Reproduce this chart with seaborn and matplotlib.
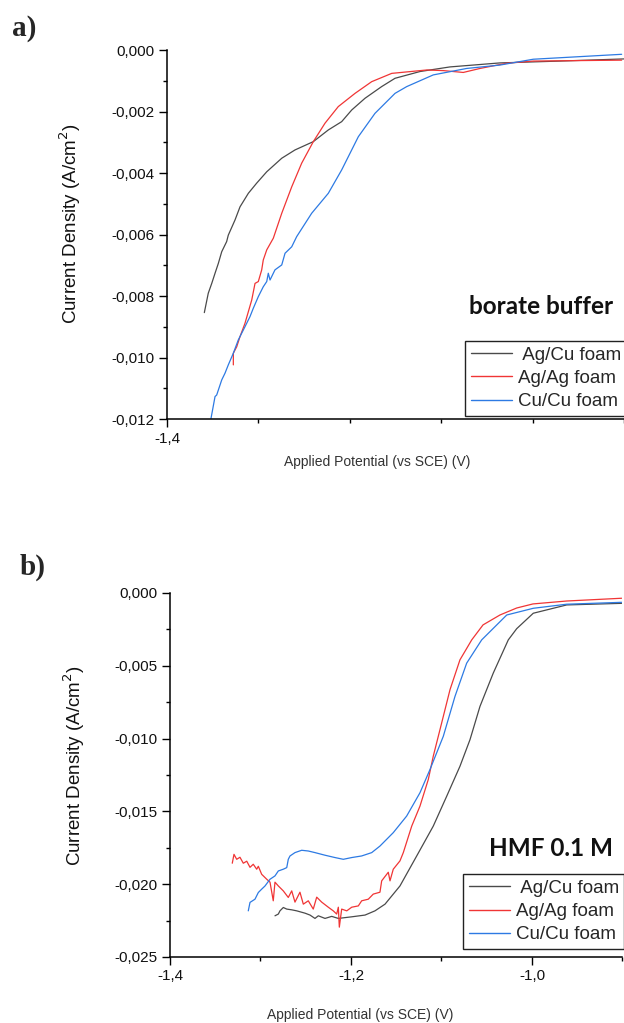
import matplotlib
matplotlib.use("Agg")
import matplotlib.pyplot as plt
import seaborn as sns
from matplotlib.ticker import FixedLocator

# ---------------- data: panel a (borate buffer) ----------------
a_agcu_v = [-1.3592, -1.3549, -1.3511, -1.3475, -1.3439, -1.3402, -1.3348, -1.3330, -1.3257,
            -1.3202, -1.3111, -1.3020, -1.2910, -1.2746, -1.2601, -1.2401, -1.2237, -1.2091,
            -1.1981, -1.1836, -1.1654, -1.1508, -1.1235, -1.0907, -1.0361, -0.9705, -0.9005]
a_agcu_j = [-0.00854, -0.00791, -0.00759, -0.00726, -0.00694, -0.00656, -0.00623, -0.00602, -0.00553,
            -0.00510, -0.00466, -0.00433, -0.00396, -0.00352, -0.00325, -0.00298, -0.00260, -0.00233,
            -0.00195, -0.00157, -0.00119, -0.00092, -0.00070, -0.00055, -0.00042, -0.00036, -0.00029]

a_agag_v = [-1.3275, -1.3275, -1.3238, -1.3202, -1.3148, -1.3111, -1.3074, -1.3038, -1.3002,
            -1.2965, -1.2948, -1.2910, -1.2838, -1.2746, -1.2637, -1.2528, -1.2401, -1.2273,
            -1.2128, -1.1945, -1.1763, -1.1544, -1.1162, -1.0980, -1.0762, -1.0579, -1.0287,
            -0.9997, -0.9031]
a_agag_j = [-0.01024, -0.00986, -0.00965, -0.00932, -0.00889, -0.00851, -0.00813, -0.00759, -0.00753,
            -0.00715, -0.00683, -0.00650, -0.00612, -0.00531, -0.00445, -0.00368, -0.00298, -0.00238,
            -0.00184, -0.00141, -0.00103, -0.00076, -0.00065, -0.00067, -0.00073, -0.00060, -0.00043,
            -0.00036, -0.00033]

a_cucu_v = [-1.3519, -1.3475, -1.3457, -1.3402, -1.3366, -1.3330, -1.3275, -1.3221, -1.3148,
            -1.3093, -1.3057, -1.3002, -1.2948, -1.2910, -1.2893, -1.2874, -1.2820, -1.2746,
            -1.2710, -1.2637, -1.2583, -1.2419, -1.2237, -1.2091, -1.1909, -1.1727, -1.1508,
            -1.1380, -1.1090, -1.0725, -1.0361, -0.9997, -0.9031]
a_cucu_j = [-0.01198, -0.01127, -0.01122, -0.01073, -0.01051, -0.01024, -0.00986, -0.00943, -0.00900,
            -0.00867, -0.00840, -0.00802, -0.00770, -0.00753, -0.00726, -0.00748, -0.00715, -0.00699,
            -0.00661, -0.00640, -0.00607, -0.00531, -0.00466, -0.00390, -0.00282, -0.00206, -0.00141,
            -0.00119, -0.00081, -0.00060, -0.00049, -0.00030, -0.00014]

# ---------------- data: panel b (HMF 0.1 M) ----------------
b_agcu_v = [-1.2840, -1.2803, -1.2785, -1.2748, -1.2710, -1.2655, -1.2600, -1.2508, -1.2453,
            -1.2398, -1.2361, -1.2287, -1.2213, -1.2140, -1.1992, -1.1845, -1.1735, -1.1624,
            -1.1459, -1.1274, -1.1091, -1.0942, -1.0796, -1.0685, -1.0575, -1.0428, -1.0262,
            -1.0169, -0.9986, -0.9617, -0.9009]
b_agcu_j = [-0.02217, -0.02205, -0.02183, -0.02160, -0.02171, -0.02176, -0.02183, -0.02199, -0.02212,
            -0.02235, -0.02217, -0.02235, -0.02221, -0.02235, -0.02224, -0.02212, -0.02183, -0.02137,
            -0.02012, -0.01806, -0.01601, -0.01395, -0.01190, -0.01007, -0.00779, -0.00550, -0.00322,
            -0.00245, -0.00139, -0.00082, -0.00071]

b_agag_v = [-1.3312, -1.3293, -1.3263, -1.3227, -1.3190, -1.3152, -1.3116, -1.3080, -1.3042,
            -1.3024, -1.2987, -1.2931, -1.2895, -1.2859, -1.2840, -1.2803, -1.2748, -1.2693,
            -1.2655, -1.2619, -1.2564, -1.2527, -1.2472, -1.2417, -1.2379, -1.2324, -1.2251,
            -1.2196, -1.2158, -1.2140, -1.2129, -1.2103, -1.2047, -1.1992, -1.1919, -1.1882,
            -1.1809, -1.1754, -1.1680, -1.1661, -1.1588, -1.1569, -1.1533, -1.1459, -1.1422,
            -1.1329, -1.1238, -1.1146, -1.1091, -1.0998, -1.0906, -1.0796, -1.0666, -1.0541,
            -1.0354, -1.0169, -0.9989, -0.9617, -0.9009]
b_agag_j = [-0.01856, -0.01795, -0.01829, -0.01815, -0.01856, -0.01842, -0.01884, -0.01863, -0.01897,
            -0.01877, -0.01932, -0.01966, -0.01986, -0.02114, -0.01986, -0.02012, -0.02046, -0.02091,
            -0.02046, -0.02123, -0.02055, -0.02137, -0.02114, -0.02171, -0.02089, -0.02123, -0.02158,
            -0.02183, -0.02205, -0.02158, -0.02295, -0.02171, -0.02183, -0.02158, -0.02149, -0.02114,
            -0.02103, -0.02068, -0.02055, -0.01977, -0.01918, -0.01977, -0.01897, -0.01840, -0.01783,
            -0.01601, -0.01464, -0.01281, -0.01121, -0.00892, -0.00664, -0.00459, -0.00322, -0.00219,
            -0.00151, -0.00103, -0.00075, -0.00055, -0.00036]

b_cucu_v = [-1.3135, -1.3116, -1.3061, -1.3024, -1.2987, -1.2950, -1.2895, -1.2840, -1.2803,
            -1.2748, -1.2710, -1.2693, -1.2674, -1.2619, -1.2545, -1.2472, -1.2398, -1.2287,
            -1.2177, -1.2085, -1.1992, -1.1882, -1.1771, -1.1680, -1.1533, -1.1385, -1.1238,
            -1.1127, -1.0980, -1.0851, -1.0722, -1.0556, -1.0279, -0.9986, -0.9617, -0.9009]
b_cucu_j = [-0.02183, -0.02125, -0.02103, -0.02057, -0.02034, -0.02012, -0.01966, -0.01943, -0.01909,
            -0.01897, -0.01886, -0.01829, -0.01806, -0.01783, -0.01767, -0.01772, -0.01783, -0.01801,
            -0.01817, -0.01829, -0.01817, -0.01806, -0.01783, -0.01738, -0.01646, -0.01532, -0.01372,
            -0.01212, -0.00984, -0.00710, -0.00482, -0.00322, -0.00151, -0.00105, -0.00077, -0.00064]

series_labels = [" Ag/Cu foam", "Ag/Ag foam", "Cu/Cu foam"]
series_colors = ["#4a4a4a", "#f03535", "#2d7ae3"]

a_yticks = [0.000, -0.002, -0.004, -0.006, -0.008, -0.010, -0.012]
a_yticklabels = ["0,000", "-0,002", "-0,004", "-0,006", "-0,008", "-0,010", "-0,012"]
a_xticks = [-1.4]
a_xticklabels = ["-1,4"]

b_yticks = [0.000, -0.005, -0.010, -0.015, -0.020, -0.025]
b_yticklabels = ["0,000", "-0,005", "-0,010", "-0,015", "-0,020", "-0,025"]
b_xticks = [-1.4, -1.2, -1.0]
b_xticklabels = ["-1,4", "-1,2", "-1,0"]

# ---------------- figure ----------------
sns.set_style("ticks")
plt.rcParams["font.family"] = ["Liberation Sans", "DejaVu Sans"]

W, H = 624, 1023
fig = plt.figure(figsize=(W / 100, H / 100), dpi=100)
ax_a = fig.add_axes([167 / W, 1 - 419 / H, 457.5 / W, 369 / H])
ax_b = fig.add_axes([170 / W, 1 - 957 / H, 452.5 / W, 364 / H])

panels = [
    (ax_a, [(a_agcu_v, a_agcu_j), (a_agag_v, a_agag_j), (a_cucu_v, a_cucu_j)],
     (-0.012, 0.0), a_yticks, a_yticklabels, [-0.001 - 0.002 * k for k in range(6)],
     a_xticks, a_xticklabels, [-1.3, -1.2, -1.1, -1.0, -0.9]),
    (ax_b, [(b_agcu_v, b_agcu_j), (b_agag_v, b_agag_j), (b_cucu_v, b_cucu_j)],
     (-0.025, 0.0), b_yticks, b_yticklabels, [-0.0025 - 0.005 * k for k in range(5)],
     b_xticks, b_xticklabels, [-1.3, -1.1, -0.9]),
]

for ax, curves, ylim, yt, ytl, yminor, xt, xtl, xminor in panels:
    for (v, j), lab, col in zip(curves, series_labels, series_colors):
        sns.lineplot(x=v, y=j, ax=ax, color=col, lw=0.9, sort=False,
                     estimator=None, label=lab)
    ax.set_xlim(-1.4, -0.9)
    ax.set_ylim(*ylim)
    ax.yaxis.set_major_locator(FixedLocator(yt))
    ax.set_yticklabels(ytl)
    ax.yaxis.set_minor_locator(FixedLocator(yminor))
    ax.xaxis.set_major_locator(FixedLocator(xt))
    ax.set_xticklabels(xtl)
    ax.xaxis.set_minor_locator(FixedLocator(xminor))
    ax.tick_params(which="major", direction="out", length=6, width=1.0,
                   labelsize=11, pad=3, color="black", labelcolor="#111111")
    ax.tick_params(which="minor", direction="out", length=3, width=1.0, color="black")
    for side in ("top", "right"):
        ax.spines[side].set_visible(False)
    for side in ("left", "bottom"):
        ax.spines[side].set_linewidth(1.1)
        ax.spines[side].set_color("black")
    ax.set_ylabel("Current Density (A/cm$^2$)", fontsize=13.5, color="#111111")
    ax.set_xlabel("Applied Potential (vs SCE) (V)", fontsize=10, color="#333333")

ax_a.yaxis.set_label_coords(-0.184, 0.53)
ax_a.xaxis.set_label_coords(0.46, -0.098)
ax_b.yaxis.set_label_coords(-0.184, 0.525)
ax_b.xaxis.set_label_coords(0.42, -0.140)

# legends
for ax, left, top in ((ax_a, 465, 341), (ax_b, 463, 874)):
    leg = ax.legend(loc="upper left", bbox_to_anchor=(left / W, 1 - top / H),
                    bbox_transform=fig.transFigure, frameon=True, fancybox=False,
                    edgecolor="#222222", framealpha=1, borderaxespad=0,
                    fontsize=13.5, handlelength=2.2, handletextpad=0.3,
                    labelspacing=0.33, borderpad=0.3)
    leg.get_frame().set_linewidth(1.0)
    for line in leg.get_lines():
        line.set_linewidth(1.0)

# condition captions
fig.text(541.5 / W, 1 - 307 / H, "borate buffer", ha="center", va="center",
         fontsize=17.5, fontweight="bold", family=["Lato", "DejaVu Sans"], color="#111111")
fig.text(551 / W, 1 - 849 / H, "HMF 0.1 M", ha="center", va="center",
         fontsize=17.5, fontweight="bold", family=["Lato", "DejaVu Sans"], color="#111111")

# panel letters
fig.text(12 / W, 1 - 28 / H, "a)", ha="left", va="center", fontsize=21,
         fontweight="bold", family=["Liberation Serif", "DejaVu Serif"])
fig.text(20 / W, 1 - 567 / H, "b)", ha="left", va="center", fontsize=21,
         fontweight="bold", family=["Liberation Serif", "DejaVu Serif"])

fig.savefig("out.png", dpi=100)
